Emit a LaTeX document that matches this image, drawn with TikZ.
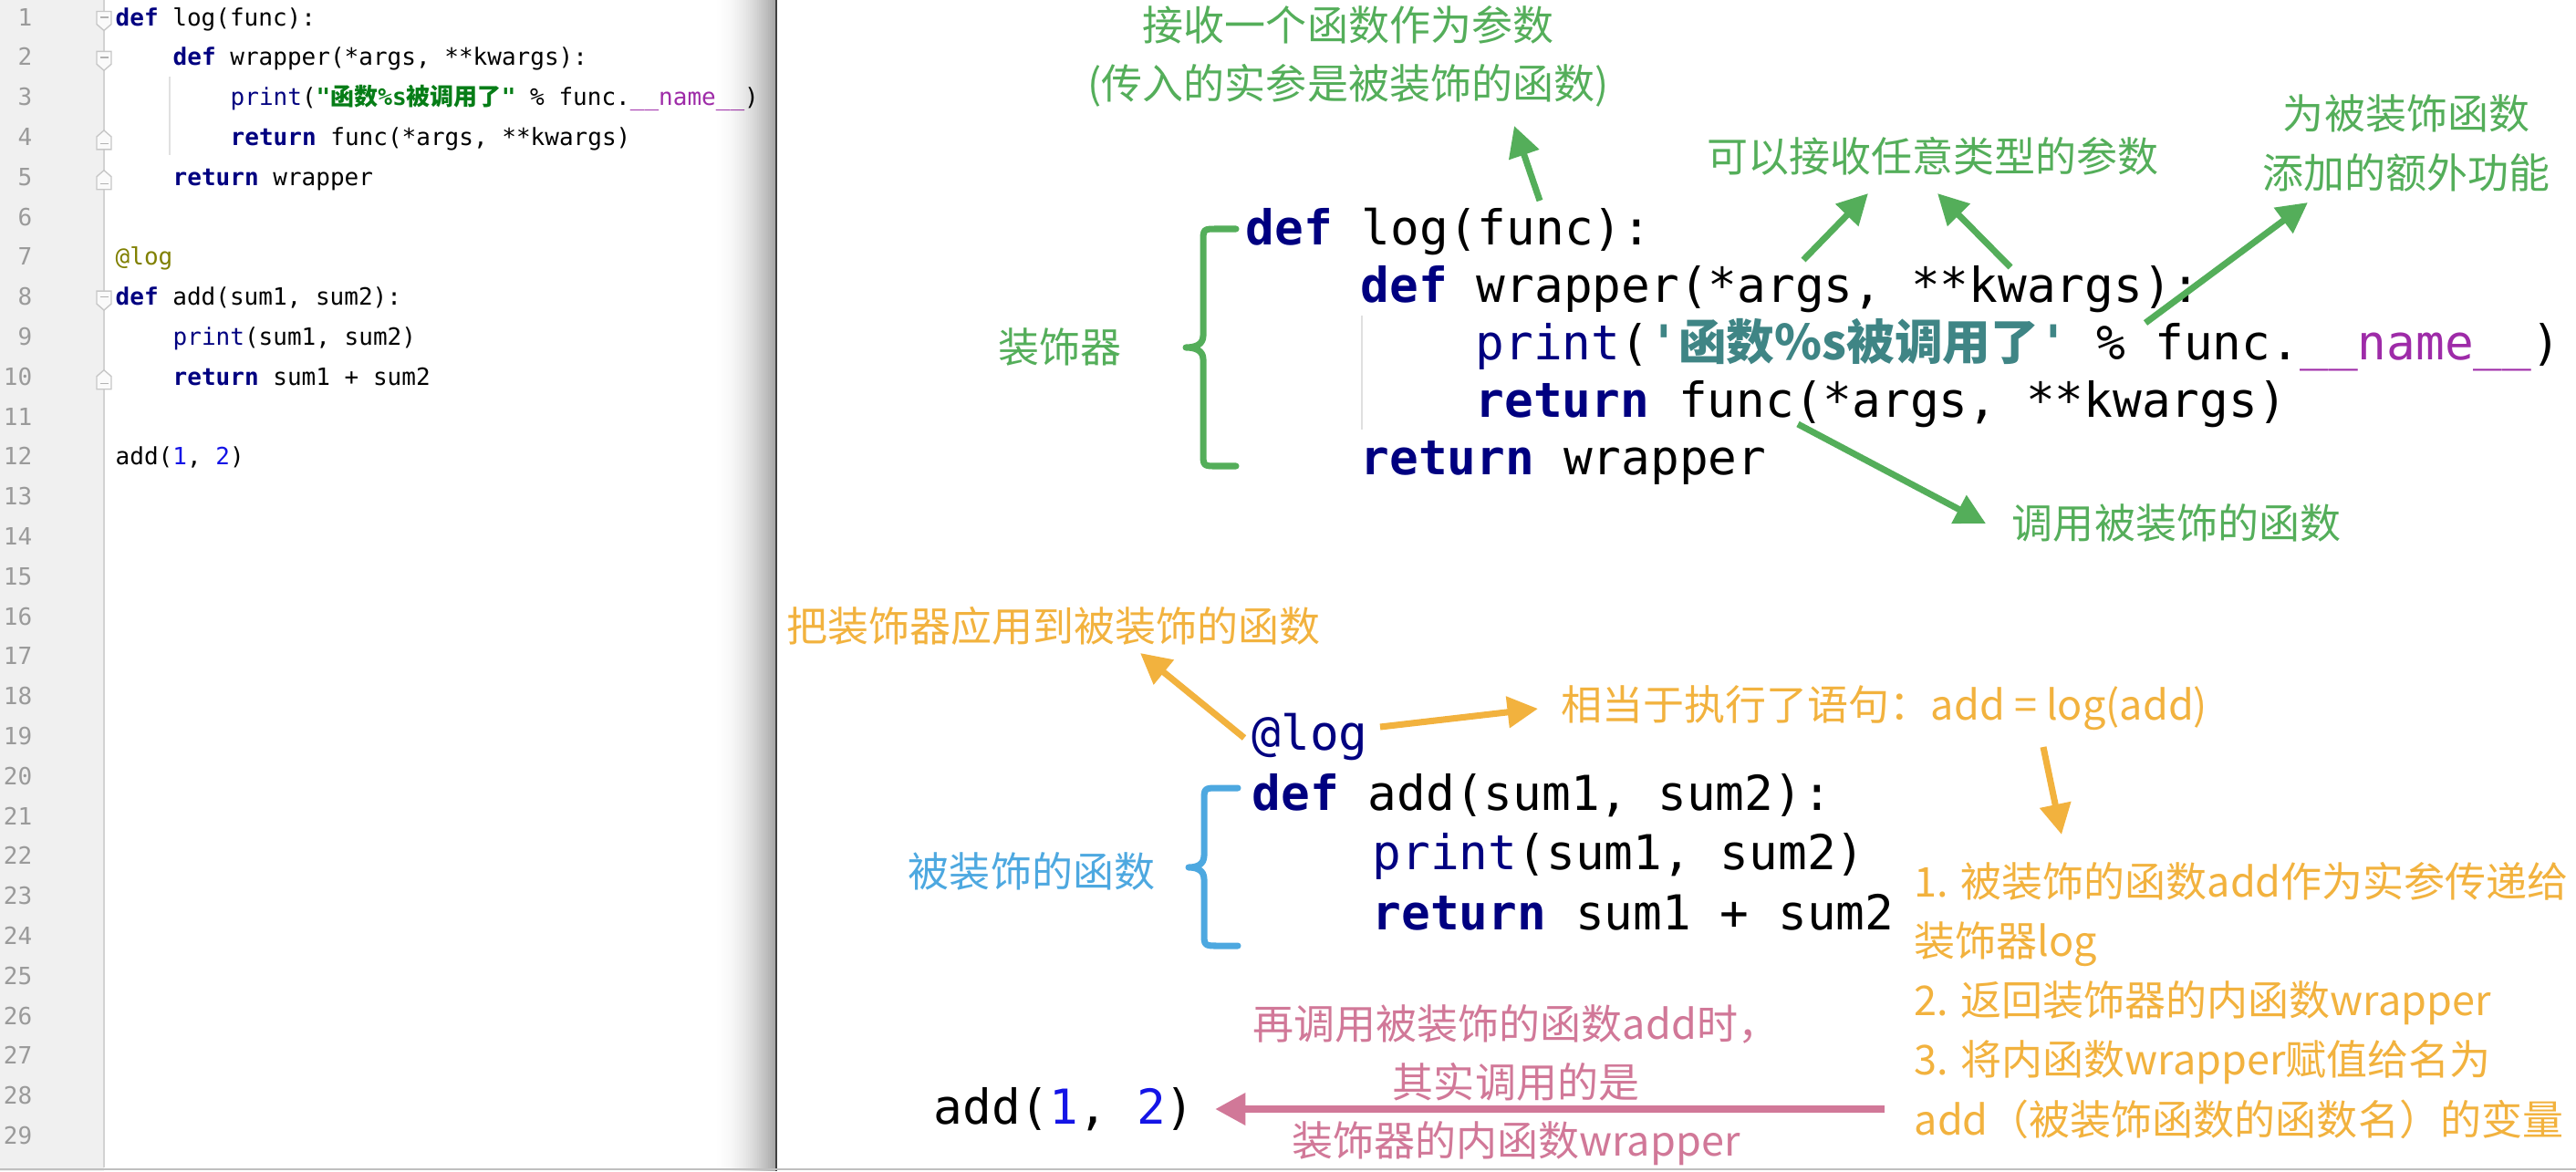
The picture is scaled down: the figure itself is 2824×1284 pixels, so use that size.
\documentclass[tikz,border=0pt]{standalone}
\usepackage{fontspec}
\setmonofont{DejaVu Sans Mono}
\newfontfamily\cjk{Noto Sans CJK SC}
\usepackage{xcolor}
\usetikzlibrary{arrows.meta}

\definecolor{gutter}{HTML}{F0F0F0}
\definecolor{gutline}{HTML}{D2D2D2}
\definecolor{lnumgray}{HTML}{9A9A9A}
\definecolor{kwblue}{HTML}{000080}
\definecolor{strgreen}{HTML}{067D17}
\definecolor{strteal}{HTML}{3F8585}
\definecolor{dunder}{HTML}{9E2BA8}
\definecolor{decolive}{HTML}{808000}
\definecolor{numblue}{HTML}{1414E6}
\definecolor{notegreen}{HTML}{54AE5A}
\definecolor{noteorange}{HTML}{F2B23E}
\definecolor{noteblue}{HTML}{4DA8E0}
\definecolor{notepink}{HTML}{D17898}

\newcommand{\kw}[1]{{\bfseries\color{kwblue}#1}}
\newcommand{\bi}[1]{{\color{kwblue}#1}}
\newcommand{\nm}[1]{{\color{dunder}#1}}
\newcommand{\nb}[1]{{\color{numblue}#1}}

\begin{document}
\begin{tikzpicture}[x=0.01cm,y=-0.01cm,
  every node/.style={inner sep=0pt},
  codebig/.style={anchor=base west,font=\ttfamily\fontsize{15pt}{18pt}\selectfont},
  codesmall/.style={anchor=base west,font=\ttfamily\fontsize{7.4pt}{9pt}\selectfont},
  lnum/.style={anchor=base east,text=lnumgray,font=\ttfamily\fontsize{7.4pt}{9pt}\selectfont},
  note/.style={align=center,font=\cjk\fontsize{12.8pt}{18.2pt}\selectfont},
  fold/.style={draw=black!22,fill=black!2,line width=0.4pt},
  brace/.style={line width=2pt,line cap=round,line join=round},
  arr/.style={line width=2pt,-{Triangle[length=9.5pt,width=9.5pt]}}]
\useasboundingbox (0,0) rectangle (2824,1284);
\fill[white] (0,0) rectangle (2824,1284);
\fill[gutter] (0,0) rectangle (114,1284);
\draw[gutline,line width=0.6pt] (114,0) -- (114,1280);

\foreach \k in {1,...,29}
  \node[lnum] (ln\k) at (36,{28+43.8*(\k-1)}) {\k};
\foreach \k in {1,2,8}{
  \pgfmathsetmacro\yc{22.5+43.8*(\k-1)}
  \draw[fold] (106,{\yc-10}) -- (122,{\yc-10}) -- (122,{\yc+4}) -- (114,{\yc+11}) -- (106,{\yc+4}) -- cycle;
  \draw[black!30,line width=0.4pt] (109.5,{\yc-3.5}) -- (118.5,{\yc-3.5});
}
\foreach \k in {4,5,10}{
  \pgfmathsetmacro\yc{22.5+43.8*(\k-1)}
  \draw[fold] (106,{\yc+10}) -- (122,{\yc+10}) -- (122,{\yc-4}) -- (114,{\yc-11}) -- (106,{\yc-4}) -- cycle;
  \draw[black!30,line width=0.4pt] (109.5,{\yc+3.5}) -- (118.5,{\yc+3.5});
}
\draw[black!12,line width=0.3pt] (186,84) -- (186,170);

\node[codesmall] (l1) at (126,28) {\kw{def} log(func):};
\node[codesmall] (l2) at (189,71.8) {\kw{def} wrapper(*args, **kwargs):};
\node[codesmall] (l3) at (252,115.6) {\bi{print}({\bfseries\color{strgreen}"{\cjk 函数}\%s{\cjk 被调用了}"} \% func.\nm{\_\_name\_\_})};
\node[codesmall] (l4) at (252,159.4) {\kw{return} func(*args, **kwargs)};
\node[codesmall] (l5) at (189,203.2) {\kw{return} wrapper};
\node[codesmall] (l7) at (126,290.8) {{\color{decolive}@log}};
\node[codesmall] (l8) at (126,334.6) {\kw{def} add(sum1, sum2):};
\node[codesmall] (l9) at (189,378.4) {\bi{print}(sum1, sum2)};
\node[codesmall] (l10) at (189,422.2) {\kw{return} sum1 + sum2};
\node[codesmall] (l12) at (126,509.8) {add(\nb{1}, \nb{2})};

\foreach \i in {0,...,34}
  \fill[black,opacity={0.34*(\i/34)^2}] ({780+2*\i},0) rectangle ++(2,1284);
\draw[black!75,line width=0.4pt] (851,0) -- (851,1284);
\draw[black!25,line width=0.6pt] (0,1282) -- (2824,1282);

\draw[black!12,line width=0.3pt] (1493,346) -- (1493,471);
\node[codebig] (c1) at (1365,268) {\kw{def} log(func):};
\node[codebig] (c2) at (1491,331) {\kw{def} wrapper(*args, **kwargs):};
\node[codebig] (c3) at (1617,394) {\bi{print}({\bfseries\color{strteal}'{\cjk 函数\%s被调用了}'} \% func.\nm{\_\_name\_\_})};
\node[codebig] (c4) at (1617,457) {\kw{return} func(*args, **kwargs)};
\node[codebig] (c5) at (1491,520) {\kw{return} wrapper};

\node[codebig] (d1) at (1372,822) {\bi{@log}};
\node[codebig] (d2) at (1372,888) {\kw{def} add(sum1, sum2):};
\node[codebig] (d3) at (1504,953) {\bi{print}(sum1, sum2)};
\node[codebig] (d4) at (1504,1019) {\kw{return} sum1 + sum2};
\node[codebig] (call) at (1023,1232) {add(\nb{1}, \nb{2})};

\draw[brace,notegreen] (1355,251) -- (1334,251) .. controls (1319,251) .. (1319,266) -- (1319,368)
  .. controls (1319,378) and (1310,381) .. (1300,381) .. controls (1310,381) and (1319,384) .. (1319,394)
  -- (1319,496) .. controls (1319,511) .. (1334,511) -- (1355,511);
\draw[brace,noteblue] (1357,864) -- (1336,864) .. controls (1320,864) .. (1320,879) -- (1320,938)
  .. controls (1320,948) and (1312,951) .. (1303,951) .. controls (1312,951) and (1320,954) .. (1320,964)
  -- (1320,1022) .. controls (1320,1037) .. (1336,1037) -- (1357,1037);

\node[note,text=notegreen] (decor) at (1162,380) {装饰器};
\node[note,text=notegreen] (takefn) at (1478,62) {接收一个函数作为参数\\(传入的实参是被装饰的函数)};
\node[note,text=notegreen] (anyargs) at (2119,171) {可以接收任意类型的参数};
\node[note,text=notegreen,font=\cjk\fontsize{12.8pt}{18.5pt}\selectfont] (extra) at (2638,157) {为被装饰函数\\添加的额外功能};
\node[note,text=notegreen] (callfn) at (2386,573) {调用被装饰的函数};
\node[note,text=noteblue] (decorated) at (1131,955) {被装饰的函数};
\node[note,text=noteorange] (apply) at (1155,686) {把装饰器应用到被装饰的函数};
\node[note,text=noteorange,anchor=west] (equiv) at (1711,776) {相当于执行了语句：add = log(add)};
\node[note,text=noteorange,anchor=west,align=left,font=\cjk\fontsize{12.8pt}{18.5pt}\selectfont] (steps) at (2098,1097)
  {1. 被装饰的函数add作为实参传递给\\装饰器log\\2. 返回装饰器的内函数wrapper\\3. 将内函数wrapper赋值给名为\\add（被装饰函数的函数名）的变量};
\node[note,text=notepink] (really) at (1662,1190) {再调用被装饰的函数add时，\\其实调用的是\\装饰器的内函数wrapper};

\coordinate (funcarg) at (1688,220);  \coordinate (takefntip) at (1660,138);
\coordinate (argsarg) at (1977,285);  \coordinate (anyargs1) at (2048,212);
\coordinate (kwarg) at (2204,293);    \coordinate (anyargs2) at (2124,212);
\coordinate (printcall) at (2352,354); \coordinate (extratip) at (2530,222);
\coordinate (retcall) at (1971,465);  \coordinate (callfntip) at (2177,574);
\coordinate (atlogl) at (1364,809);   \coordinate (applytip) at (1250,716);
\coordinate (atlogr) at (1513,797);   \coordinate (equivtip) at (1686,777);
\coordinate (equivdown) at (2240,819); \coordinate (stepstip) at (2260,915);
\coordinate (reallyr) at (2066,1216); \coordinate (calltip) at (1332,1216);

\draw[arr,notegreen] (funcarg) -- (takefntip);
\draw[arr,notegreen] (argsarg) -- (anyargs1);
\draw[arr,notegreen] (kwarg) -- (anyargs2);
\draw[arr,notegreen] (printcall) -- (extratip);
\draw[arr,notegreen] (retcall) -- (callfntip);
\draw[arr,noteorange] (atlogl) -- (applytip);
\draw[arr,noteorange] (atlogr) -- (equivtip);
\draw[arr,noteorange] (equivdown) -- (stepstip);
\draw[arr,notepink,line width=2.5pt] (reallyr) -- (calltip);
\end{tikzpicture}
\end{document}
